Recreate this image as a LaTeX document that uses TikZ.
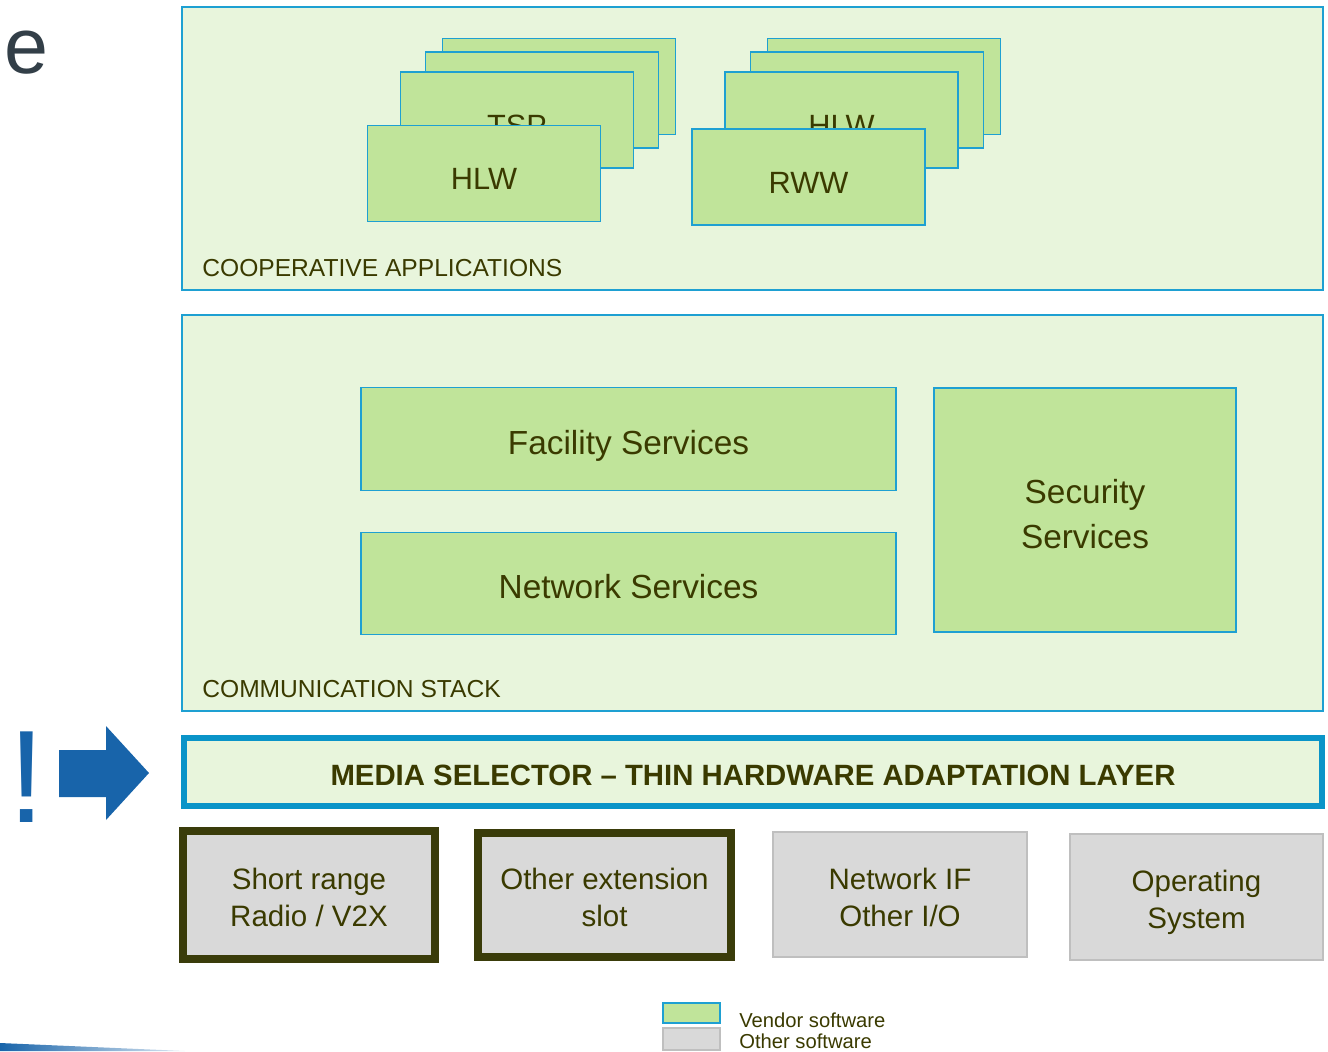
\documentclass[tikz,border=0pt]{standalone}
\usepackage{fontspec}
\setmainfont{Liberation Sans}
\usepackage{tikz}
\usetikzlibrary{positioning, calc}
\definecolor{panelgreen}{HTML}{E8F5DC}
\definecolor{vendorgreen}{HTML}{C0E49A}
\definecolor{edgeblue}{HTML}{1EA0D2}
\definecolor{mediablue}{HTML}{0A94C8}
\definecolor{olivetext}{HTML}{3A3A00}
\definecolor{othergray}{HTML}{D9D9D9}
\definecolor{grayedge}{HTML}{BFBFBF}
\definecolor{slotedge}{HTML}{3A3C0A}
\definecolor{arrowblue}{HTML}{1864AA}
\definecolor{slate}{HTML}{333F48}

\begin{document}
\begin{tikzpicture}[x=0.02cm, y=-0.02cm,
  panel/.style={rectangle, fill=panelgreen, draw=edgeblue, line width=0.8pt,
    minimum width=22.82cm, inner sep=0pt},
  panellabel/.style={anchor=west, inner sep=0pt, text=olivetext, font=\fontsize{14pt}{16pt}\selectfont},
  appbox/.style={rectangle, fill=vendorgreen, draw=edgeblue, line width=0.8pt,
    minimum width=4.66cm, minimum height=1.92cm, text=olivetext,
    text height=19pt, text depth=0.3pt, font=\fontsize{17.5pt}{20pt}\selectfont},
  service/.style={rectangle, fill=vendorgreen, draw=edgeblue, line width=0.8pt,
    minimum width=10.7cm, minimum height=2.05cm, text=olivetext, align=center,
    text height=18pt, text depth=0.4pt, font=\fontsize{19pt}{25.5pt}\selectfont},
  hwbox/.style={rectangle, fill=othergray, text=olivetext, align=center,
    minimum width=5.07cm, text height=36.5pt, text depth=0.2pt,
    font=\fontsize{16.8pt}{21.2pt}\selectfont},
  slot/.style={hwbox, draw=slotedge, line width=4.5pt},
  plain/.style={hwbox, draw=grayedge, line width=0.8pt},
  legendkey/.style={rectangle, minimum width=1.14cm, line width=0.8pt},
  legendtext/.style={anchor=base west, inner sep=0pt, text=olivetext, font=\fontsize{11.5pt}{12pt}\selectfont}
]
  \useasboundingbox (0,0) rectangle (1328,1051);

  % cut-off slide text
  \node[text=slate, font=\fontsize{45pt}{50pt}\selectfont, inner sep=0pt] (etext) at (26,53) {e};

  % cooperative applications
  \node[panel, minimum height=5.66cm] (coop) at (752.5,148.5) {};
  \node[panellabel] (cooplabel) at (202,268) {COOPERATIVE APPLICATIONS};

  \node[appbox] (la1) at (559,86.5) {};
  \node[appbox] (la2) at (542,100) {};
  \node[appbox] (la3) at (517,120) {TSP};
  \node[appbox] (la4) at (484,173.5) {HLW};

  \node[appbox] (ra1) at (884,86.5) {};
  \node[appbox] (ra2) at (867,100) {};
  \node[appbox] (ra3) at (841.5,120) {HLW};
  \node[appbox] (ra4) at (808.5,177) {RWW};

  % communication stack
  \node[panel, minimum height=7.92cm] (comm) at (752.5,513) {};
  \node[panellabel] (commlabel) at (202,689) {COMMUNICATION STACK};

  \node[service] (facility) at (628.5,439) {Facility Services};
  \node[service] (network) at (628.5,583.5) {Network Services};
  \node[service, minimum width=6.04cm, minimum height=4.88cm, text height=43.8pt,
    text depth=0.2pt] (security) at (1085,510) {Security\\Services};

  % media selector
  \node[rectangle, fill=panelgreen, draw=mediablue, line width=3.4pt,
    minimum width=22.76cm, minimum height=1.36cm, text=olivetext,
    text height=16pt, text depth=0.2pt,
    font=\bfseries\fontsize{16.7pt}{20pt}\selectfont] (media) at (753,772)
    {MEDIA SELECTOR -- THIN HARDWARE ADAPTATION LAYER};

  \node[text=arrowblue, font=\fontsize{75pt}{80pt}\selectfont, inner sep=0pt] (bang) at (27,777) {!};
  \fill[arrowblue] (59,750) -- (106,750) -- (106,726) -- (149,773) -- (106,820)
    -- (106,797) -- (59,797) -- cycle;

  % hardware layer
  \node[slot, minimum width=5.04cm, minimum height=2.56cm] (radio) at (309,895) {Short range\\Radio / V2X};
  \node[slot, minimum width=5.06cm, minimum height=2.48cm] (extslot) at (604.5,895) {Other extension\\slot};
  \node[plain, minimum width=5.08cm, minimum height=2.5cm] (netif) at (900,894.5) {Network IF\\Other I/O};
  \node[plain, minimum width=5.06cm, minimum height=2.52cm] (os) at (1196.5,897) {Operating\\System};

  % legend
  \node[legendkey, fill=vendorgreen, draw=edgeblue, minimum height=0.4cm] (vendorkey) at (691.5,1013) {};
  \node[legendkey, fill=othergray, draw=grayedge, minimum height=0.44cm] (otherkey) at (691.5,1039) {};
  \node[legendtext] (vendorlbl) at (739,1027) {Vendor software};
  \node[legendtext] (otherlbl) at (739,1048) {Other software};

  \shade[left color=arrowblue, right color=arrowblue!15] (0,1043) -- (185,1051) -- (0,1051) -- cycle;
\end{tikzpicture}
\end{document}
